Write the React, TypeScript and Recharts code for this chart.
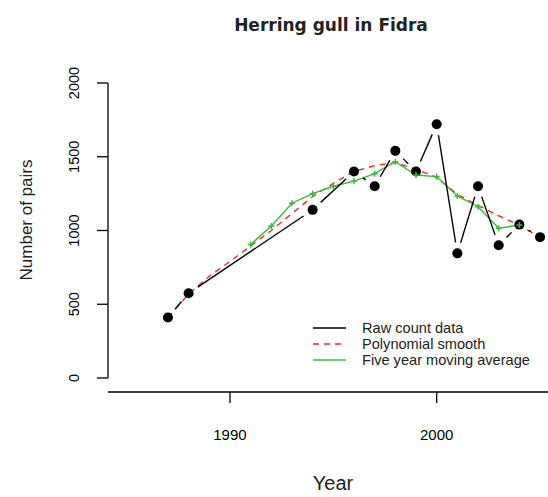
import React from 'react';
import { LineChart, Line, XAxis, YAxis, Legend, ReferenceLine } from 'recharts';

// Raw count data (observed years only)
const rawYears = [1987, 1988, 1994, 1996, 1997, 1998, 1999, 2000, 2001, 2002, 2003, 2004, 2005];
const rawCounts = [410, 575, 1140, 1400, 1300, 1540, 1400, 1720, 845, 1300, 900, 1040, 955];

// Polynomial smooth
const smoothYears = [1987, 1988, 1989, 1990, 1991, 1992, 1993, 1994, 1995, 1996, 1997, 1998, 1999, 2000, 2001, 2002, 2003, 2004, 2005];
const smoothValues = [410, 570, 690, 790, 895, 1000, 1115, 1230, 1320, 1400, 1440, 1460, 1415, 1360, 1245, 1170, 1100, 1035, 955];

// Five year moving average (green)
const avgYears = [1991, 1992, 1993, 1994, 1995, 1996, 1997, 1998, 1999, 2000, 2001, 2002, 2003, 2004];
const avgValues = [905, 1030, 1185, 1250, 1300, 1335, 1385, 1466, 1376, 1365, 1234, 1161, 1015, 1037];

const yTicks = [0, 500, 1000, 1500, 2000];
const xTicks = [1990, 2000];
const legendLabels = ['Raw count data', 'Polynomial smooth', 'Five year moving average'];
const titleText = 'Herring gull in Fidra';
const xTitle = 'Year';
const yTitle = 'Number of pairs';

const RED = '#e0302a';
const GREEN = '#3cb83c';
const GAP = 11;

const rawData = rawYears.map((year, i) => ({ year, count: rawCounts[i] }));
const smoothData = smoothYears.map((year, i) => ({ year, smooth: smoothValues[i] }));
const avgData = avgYears.map((year, i) => ({ year, avg: avgValues[i] }));

// Point marker for the raw series; also draws the link to the next point
// with a gap around each marker (like R's type = "b").
const RawDot = (props: any) => {
  const { cx, cy, index, points } = props;
  if (cx == null || cy == null) return null;
  let seg = null;
  if (points && index < points.length - 1) {
    const nx = points[index + 1].x;
    const ny = points[index + 1].y;
    const dx = nx - cx;
    const dy = ny - cy;
    const len = Math.sqrt(dx * dx + dy * dy);
    if (len > 2 * GAP) {
      const ux = dx / len;
      const uy = dy / len;
      seg = (
        <line
          x1={cx + ux * GAP}
          y1={cy + uy * GAP}
          x2={nx - ux * GAP}
          y2={ny - uy * GAP}
          stroke="#000"
          strokeWidth={1.4}
        />
      );
    }
  }
  return (
    <g>
      {seg}
      <circle cx={cx} cy={cy} r={5} fill="#000000" />
    </g>
  );
};

const PlusDot = (props: any) => {
  const { cx, cy } = props;
  if (cx == null || cy == null) return null;
  return (
    <g stroke={GREEN} strokeWidth={1.5}>
      <line x1={cx - 3} y1={cy} x2={cx + 3} y2={cy} />
      <line x1={cx} y1={cy - 3} x2={cx} y2={cy + 3} />
    </g>
  );
};

const YTick = (props: any) => {
  const { y, payload } = props;
  const x = 74;
  return (
    <text
      x={x}
      y={y}
      transform={`rotate(-90 ${x} ${y})`}
      textAnchor="middle"
      dominantBaseline="central"
      fontFamily="Liberation Sans, Arial, sans-serif"
      fontSize={14.5}
      fill="#000"
    >
      {payload.value}
    </text>
  );
};

const XTick = (props: any) => {
  const { x, payload } = props;
  return (
    <text
      x={x}
      y={434}
      textAnchor="middle"
      dominantBaseline="central"
      fontFamily="Liberation Sans, Arial, sans-serif"
      fontSize={15}
      fill="#000"
    >
      {payload.value}
    </text>
  );
};

const LegendContent = () => {
  const rows = [328, 344, 360];
  const left = 305;
  const top = 316;
  return (
    <svg width={243} height={60} style={{ display: 'block' }}>
      <line x1={313 - left} x2={346 - left} y1={rows[0] - top} y2={rows[0] - top} stroke="#000" strokeWidth={1.5} />
      <line x1={313 - left} x2={346 - left} y1={rows[1] - top} y2={rows[1] - top} stroke={RED} strokeWidth={1.5} strokeDasharray="6 5" />
      <line x1={313 - left} x2={346 - left} y1={rows[2] - top} y2={rows[2] - top} stroke={GREEN} strokeWidth={1.5} />
      {legendLabels.map((t, i) => (
        <text
          key={t}
          x={362 - left}
          y={rows[i] - top}
          dominantBaseline="central"
          fontFamily="Liberation Sans, Arial, sans-serif"
          fontSize={14.6}
          fill="#222"
        >
          {t}
        </text>
      ))}
    </svg>
  );
};

export default function App() {
  return (
    <div style={{ position: 'absolute', left: 0, top: 0, width: 548, height: 497, background: '#fff' }}>
      <LineChart width={548} height={497} margin={{ top: 60, right: 0, bottom: 75, left: 48 }}>
        <XAxis
          type="number"
          dataKey="year"
          domain={[1984.1, 2005.385]}
          allowDataOverflow
          ticks={xTicks}
          tick={<XTick />}
          tickSize={11}
          height={30}
          axisLine={{ stroke: '#000', strokeWidth: 1.3 }}
          tickLine={{ stroke: '#000', strokeWidth: 1.3 }}
        />
        <YAxis
          type="number"
          domain={[-95, 2156]}
          allowDataOverflow
          ticks={yTicks}
          tick={<YTick />}
          tickSize={11}
          width={60}
          axisLine={false}
          tickLine={{ stroke: '#000', strokeWidth: 1.3 }}
          interval={0}
        />
        <ReferenceLine
          segment={[{ x: 1984.1, y: 0 }, { x: 1984.1, y: 2000 }]}
          stroke="#000"
          strokeWidth={1.3}
          ifOverflow="visible"
        />
        <Line
          data={rawData}
          dataKey="count"
          type="linear"
          stroke="none"
          dot={<RawDot />}
          activeDot={false}
          isAnimationActive={false}
        />
        <Line
          data={smoothData}
          dataKey="smooth"
          type="linear"
          stroke={RED}
          strokeWidth={1.4}
          strokeDasharray="6 5"
          dot={false}
          activeDot={false}
          isAnimationActive={false}
        />
        <Line
          data={avgData}
          dataKey="avg"
          type="linear"
          stroke={GREEN}
          strokeWidth={1.4}
          dot={<PlusDot />}
          activeDot={false}
          isAnimationActive={false}
        />
        <Legend
          layout="horizontal"
          verticalAlign="middle"
          align="center"
          content={<LegendContent />}
          wrapperStyle={{ left: 305, top: 316, width: 243, height: 60 }}
        />
      </LineChart>
      <svg
        width={548}
        height={497}
        style={{ position: 'absolute', left: 0, top: 0, pointerEvents: 'none' }}
      >
        <text x={331} y={31} textAnchor="middle" fontFamily="DejaVu Sans, sans-serif" fontWeight="bold" fontSize={17} fill="#222">
          {titleText}
        </text>
        <text x={333} y={483} textAnchor="middle" dominantBaseline="central" fontFamily="Liberation Sans, Arial, sans-serif" fontSize={20} fill="#222">
          {xTitle}
        </text>
        <text
          x={26}
          y={220}
          transform="rotate(-90 26 220)"
          textAnchor="middle"
          dominantBaseline="central"
          fontFamily="Liberation Sans, Arial, sans-serif"
          fontSize={17}
          fill="#222"
        >
          {yTitle}
        </text>
      </svg>
    </div>
  );
}
